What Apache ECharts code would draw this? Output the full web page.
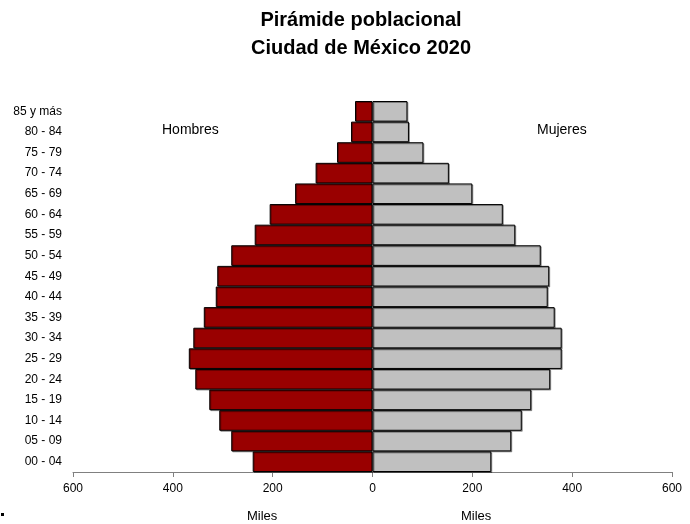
<!DOCTYPE html>
<html>
<head>
<meta charset="utf-8">
<script src="https://cdn.jsdelivr.net/npm/echarts@6/dist/echarts.min.js"></script>
<style>html,body{margin:0;padding:0;background:#fff;}#c{width:690px;height:524px;}</style>
</head>
<body>
<div id="c"></div>
<script>
const categories = ['00 - 04','05 - 09','10 - 14','15 - 19','20 - 24','25 - 29','30 - 34','35 - 39','40 - 44','45 - 49','50 - 54','55 - 59','60 - 64','65 - 69','70 - 74','75 - 79','80 - 84','85 y más'];
const hombres = [240, 283, 307, 327, 355, 368, 359, 338, 314, 311, 283, 236, 206, 155, 114, 71, 43, 35];
const mujeres = [238, 278, 299, 318, 356, 379, 379, 365, 351, 354, 337, 286, 261, 200, 153, 102, 73, 70];

const chart = echarts.init(document.getElementById('c'));
const font = 'Liberation Sans, Arial, sans-serif';
chart.setOption({
  animation: false,
  title: {
    text: 'Pirámide poblacional\nCiudad de México 2020',
    left: 356, top: 1, textAlign: 'center',
    textStyle: { fontFamily: font, fontWeight: 'bold', fontSize: 20, lineHeight: 28, color: '#000' }
  },
  grid: { left: 73, right: 18, top: 101, bottom: 52, containLabel: false },
  xAxis: {
    type: 'value', min: -600, max: 600, interval: 200,
    axisLine: { show: true, lineStyle: { color: '#808080', width: 1 } },
    axisTick: { show: true, length: 5, lineStyle: { color: '#808080' } },
    splitLine: { show: false },
    axisLabel: { formatter: v => Math.abs(v), fontFamily: font, fontSize: 12, color: '#000', margin: 11 }
  },
  yAxis: {
    type: 'category', data: categories,
    axisLine: { show: false }, axisTick: { show: false },
    axisLabel: { fontFamily: font, fontSize: 12, color: '#000', margin: 11 }
  },
  series: [
    {
      name: 'Hombres', type: 'bar', data: hombres.map(v => -v),
      barCategoryGap: '0%', barGap: '-100%',
      itemStyle: { color: '#990000', borderColor: '#000', borderWidth: 1, shadowColor: 'rgba(0,0,0,0.35)', shadowOffsetX: 1, shadowOffsetY: 1 }
    },
    {
      name: 'Mujeres', type: 'bar', data: mujeres,
      barCategoryGap: '0%', barGap: '-100%',
      itemStyle: { color: '#C0C0C0', borderColor: '#000', borderWidth: 1, shadowColor: 'rgba(0,0,0,0.35)', shadowOffsetX: 1, shadowOffsetY: 1 }
    }
  ],
  graphic: [
    { type: 'text', left: 162, top: 123, style: { text: 'Hombres', font: '14px ' + font, fill: '#000' } },
    { type: 'text', left: 537, top: 123, style: { text: 'Mujeres', font: '14px ' + font, fill: '#000' } },
    { type: 'text', left: 247, top: 510, style: { text: 'Miles', font: '13px ' + font, fill: '#000' } },
    { type: 'text', left: 461, top: 510, style: { text: 'Miles', font: '13px ' + font, fill: '#000' } },
    { type: 'rect', shape: { x: 1, y: 513, width: 3, height: 3 }, style: { fill: '#000' } }
  ]
});
</script>
</body>
</html>
